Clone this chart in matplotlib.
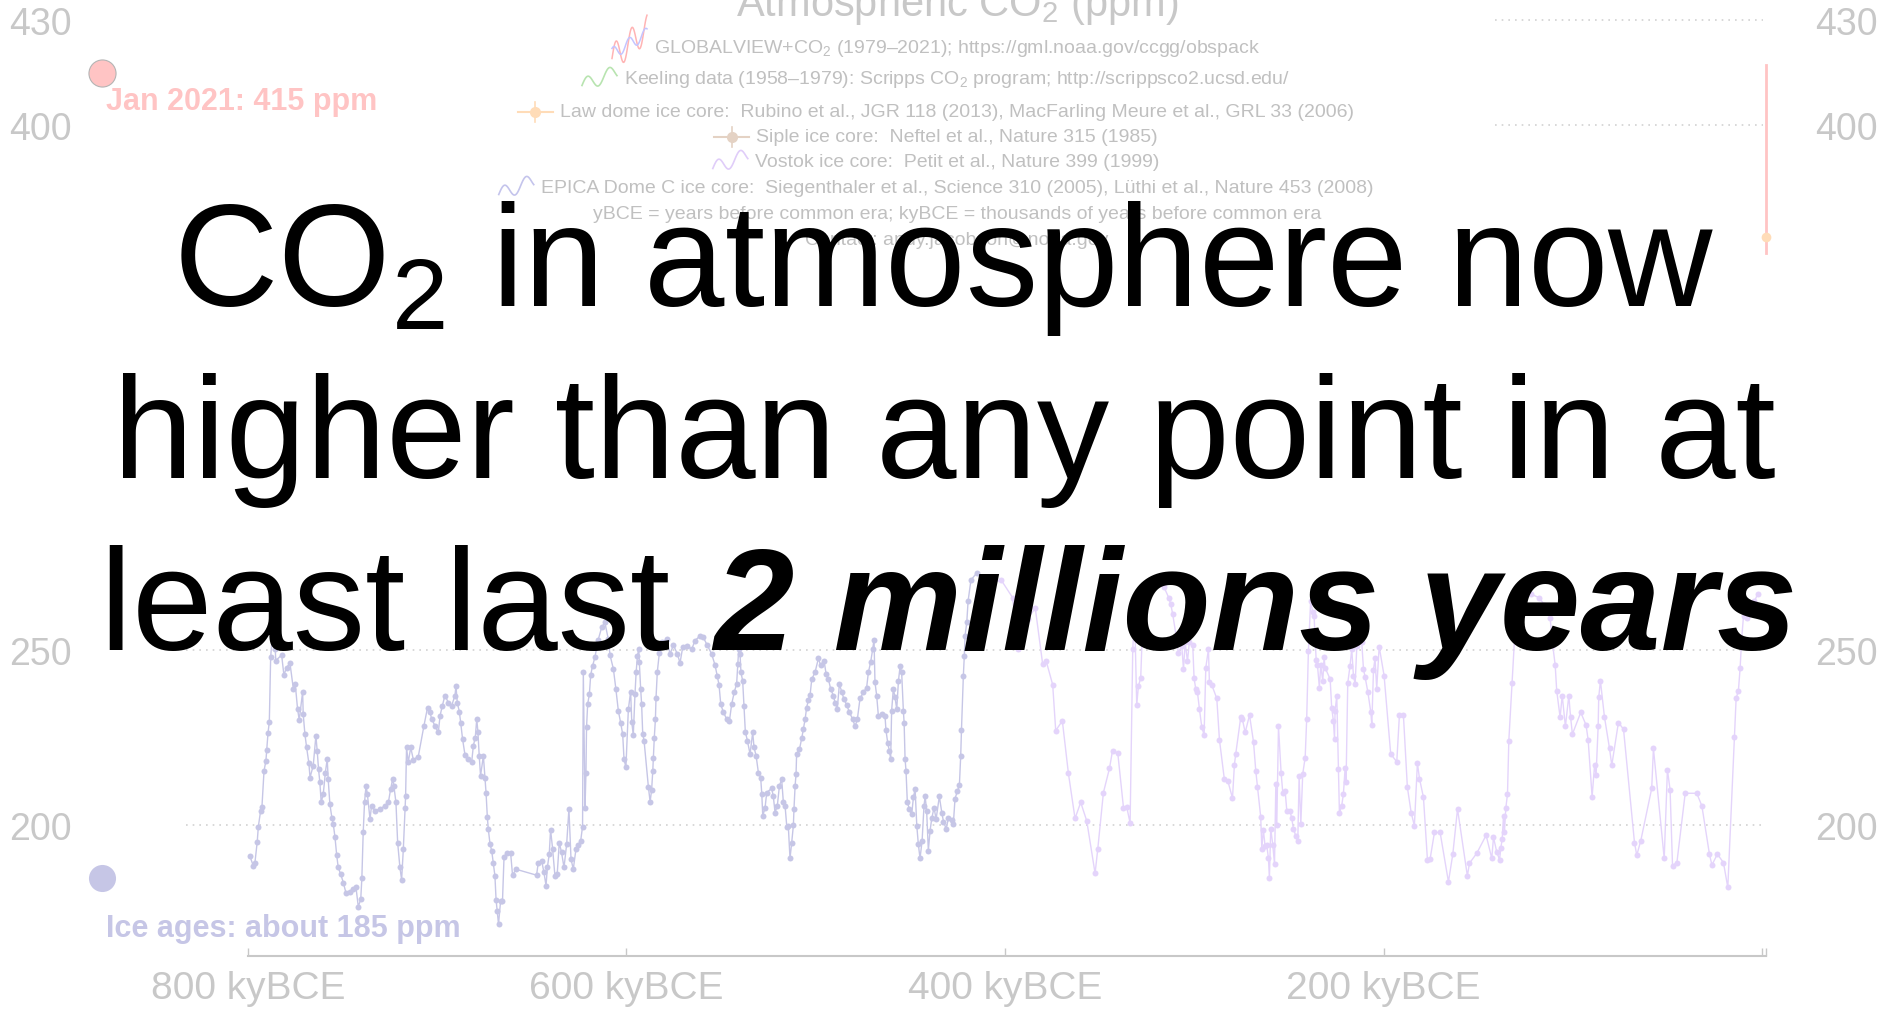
import numpy as np
import matplotlib.pyplot as plt
from matplotlib.lines import Line2D
from matplotlib.transforms import IdentityTransform, blended_transform_factory

plt.rcParams['font.family'] = ['Liberation Sans', 'DejaVu Sans']
plt.rcParams['mathtext.fontset'] = 'custom'
plt.rcParams['mathtext.rm'] = 'Liberation Sans'
plt.rcParams['mathtext.it'] = 'Liberation Sans:italic'
plt.rcParams['mathtext.bf'] = 'Liberation Sans:bold'

W, H = 1883, 1012

# --- data (thousands of years BCE, ppm) ---
epica_ky = [799.0, 797.2, 796.3, 795.1, 794.5, 793.3, 792.6, 791.5, 790.5, 790.1, 789.4, 788.7, 788.0, 787.0,
            786.2, 785.6, 785.3, 782.2, 781.0, 779.6, 777.8, 776.0, 775.0, 773.8, 772.9, 771.1, 770.8, 769.9,
            769.0, 767.8, 767.2, 765.5, 764.1, 763.4, 762.7, 762.0, 761.3, 760.2, 759.1, 758.1, 757.6, 756.7,
            755.6, 754.9, 754.0, 753.1, 752.3, 751.0, 749.6, 748.2, 746.1, 744.3, 742.9, 741.7, 740.4, 739.8,
            739.1, 738.4, 737.6, 736.9, 735.5, 734.7, 732.9, 730.3, 727.6, 725.8, 724.6, 723.5, 722.9, 721.8,
            720.9, 719.7, 718.8, 717.9, 717.0, 716.7, 716.2, 715.3, 714.0, 712.6, 710.0, 707.0, 705.1, 703.8,
            702.9, 701.2, 699.4, 698.5, 697.3, 695.9, 694.1, 692.4, 690.6, 690.1, 689.4, 688.3, 687.6, 686.6,
            685.3, 683.5, 681.8, 680.9, 679.9, 679.1, 678.5, 677.8, 677.1, 675.6, 674.8, 674.2, 673.5, 673.0,
            672.1, 671.2, 670.4, 669.5, 668.9, 668.3, 667.6, 666.5, 665.5, 664.7, 663.3, 661.2, 660.2, 658.4,
            647.5, 646.6, 644.8, 643.6, 642.5, 641.8, 640.8, 640.1, 639.0, 637.8, 636.6, 635.5, 634.3, 633.0,
            631.6, 630.4, 629.3, 628.1, 626.7, 625.5, 624.2, 623.2, 622.8, 621.9, 621.4, 621.1, 620.5, 619.6,
            618.9, 617.9, 616.7, 614.9, 613.1, 611.4, 609.6, 608.7, 606.9, 605.6, 604.3, 603.1, 602.0, 601.3,
            600.3, 599.0, 597.8, 597.2, 596.4, 595.5, 594.9, 594.2, 593.5, 593.2, 592.5, 592.0, 591.4, 590.7,
            588.4, 587.5, 586.7, 586.1, 585.8, 585.3, 584.7, 584.4, 583.7, 582.6, 581.4, 578.7, 577.0, 575.2,
            573.1, 571.7, 570.3, 568.2, 565.5, 563.8, 561.1, 559.4, 557.3, 555.0, 553.2, 552.0, 551.1, 550.2,
            548.8, 547.0, 545.6, 544.4, 543.0, 541.8, 541.2, 540.7, 540.0, 539.5, 538.6, 537.9, 537.2, 536.1,
            534.7, 533.3, 532.6, 531.5, 530.3, 529.1, 528.5, 528.0, 526.8, 525.9, 523.3, 522.4, 521.5, 520.3,
            519.2, 518.0, 517.1, 516.2, 515.3, 514.5, 513.6, 512.7, 511.8, 511.5, 510.9, 510.4, 510.1, 508.6,
            507.4, 506.5, 505.6, 504.8, 503.9, 503.0, 502.1, 500.4, 498.6, 497.4, 495.6, 494.5, 493.3, 492.1,
            490.7, 489.8, 488.6, 487.5, 486.3, 485.1, 483.6, 482.2, 480.5, 479.2, 478.0, 476.6, 474.8, 473.1,
            472.2, 471.0, 469.9, 469.2, 468.7, 467.8, 466.9, 465.1, 463.4, 462.9, 462.0, 461.1, 460.4, 459.9,
            459.0, 458.1, 457.2, 456.3, 455.4, 454.6, 453.7, 453.3, 452.8, 452.3, 451.6, 450.5, 449.3, 448.4,
            447.5, 446.6, 445.8, 444.9, 443.8, 442.8, 442.2, 441.4, 440.5, 439.6, 438.7, 437.5, 436.4, 434.7,
            433.4, 432.5, 431.1, 429.9, 428.1, 427.3, 426.4, 425.1, 424.1, 423.4, 423.0, 422.0, 421.5, 421.1,
            420.2, 419.5, 418.0, 415.0, 412.0]
epica_ppm = [191.2, 188.4, 189.3, 195.2, 199.6, 204.1, 205.2, 215.5, 218.4, 221.4, 226.3, 229.5, 247.9, 255.0,
             258.0, 250.3, 247.0, 248.6, 242.9, 245.0, 246.3, 238.9, 240.3, 233.3, 230.0, 238.1, 231.7, 226.0,
             222.2, 217.7, 213.6, 217.0, 225.5, 221.2, 216.0, 212.2, 206.5, 208.9, 215.0, 218.9, 213.1, 206.0,
             201.9, 200.3, 196.5, 191.4, 187.9, 186.0, 183.6, 180.6, 180.8, 181.7, 182.2, 176.7, 178.8, 185.0,
             197.9, 206.5, 211.2, 208.9, 201.7, 205.5, 204.1, 204.6, 205.5, 206.5, 210.3, 213.3, 211.2, 206.5,
             195.0, 187.9, 184.4, 193.1, 205.0, 208.2, 222.2, 217.9, 222.2, 218.7, 219.6, 228.4, 233.6, 232.2,
             230.3, 228.4, 226.5, 231.2, 234.1, 237.0, 235.0, 234.1, 237.0, 239.8, 235.0, 232.4, 229.3, 224.6,
             220.0, 218.9, 217.9, 222.7, 225.0, 230.3, 226.7, 219.8, 214.1, 219.8, 213.6, 209.3, 202.2, 198.9,
             194.6, 192.7, 189.3, 185.5, 178.7, 175.5, 171.7, 178.4, 178.4, 190.8, 192.0, 192.0, 185.7, 187.4,
             185.7, 189.3, 189.8, 186.5, 182.7, 187.9, 191.7, 198.7, 193.1, 185.5, 186.0, 195.0, 192.2, 187.9,
             194.6, 204.6, 190.3, 187.4, 193.1, 194.3, 195.5, 199.6, 243.6, 205.0, 215.0, 227.9, 234.6, 237.4,
             242.9, 245.5, 247.9, 253.0, 256.5, 257.9, 253.1, 248.6, 244.6, 238.9, 232.7, 229.3, 226.0, 218.9,
             216.5, 233.1, 238.1, 229.5, 225.7, 237.4, 243.6, 248.4, 250.3, 246.5, 238.9, 234.6, 226.0, 224.1,
             210.8, 206.7, 210.1, 215.5, 219.3, 225.0, 230.3, 236.2, 243.8, 249.3, 252.2, 253.1, 248.9, 251.4,
             248.9, 246.3, 250.8, 251.2, 250.3, 252.7, 254.1, 253.6, 251.4, 248.9, 245.7, 242.5, 240.1, 234.6,
             232.2, 230.3, 229.8, 234.6, 238.1, 240.3, 246.0, 250.3, 248.9, 243.6, 241.2, 234.1, 226.7, 224.1,
             220.3, 226.5, 222.2, 219.8, 215.0, 213.6, 208.9, 202.7, 204.8, 209.3, 210.5, 208.2, 203.6, 205.5,
             211.2, 213.1, 206.5, 205.5, 199.6, 199.8, 190.5, 195.0, 200.0, 204.6, 211.2, 214.6, 220.3, 221.7,
             224.8, 227.6, 230.3, 233.6, 235.7, 237.1, 241.7, 243.6, 247.6, 245.7, 247.0, 243.1, 241.7, 238.9,
             237.0, 235.0, 233.3, 240.3, 238.1, 236.0, 234.3, 232.2, 230.3, 228.2, 230.3, 236.2, 237.9, 239.3,
             243.6, 246.5, 250.3, 253.0, 240.8, 237.0, 231.2, 231.7, 231.2, 227.2, 223.6, 221.2, 218.9, 232.7,
             238.9, 236.5, 233.1, 241.2, 245.5, 243.6, 232.7, 229.3, 218.9, 215.5, 206.5, 204.6, 203.1, 207.9,
             210.3, 199.8, 194.6, 190.5, 195.5, 205.5, 208.2, 204.1, 192.7, 198.4, 201.9, 205.0, 201.7, 208.2,
             203.6, 201.0, 199.0, 201.9, 201.5, 200.3, 207.6, 209.8, 211.4, 219.8, 227.2, 242.7, 248.4, 254.1,
             257.9, 264.0, 270.0, 272.0, 271.0]

vostok_ky = [414.0, 408.0, 402.0, 396.0, 392.9, 388.0, 384.0, 380.1, 378.3, 374.8, 373.2, 369.7, 366.5, 363.0,
             360.0, 356.8, 352.4, 351.0, 348.0, 344.8, 343.2, 340.4, 337.4, 335.7, 333.9, 332.5, 331.5, 330.4,
             329.5, 328.3, 327.0, 324.0, 320.0, 316.0, 313.5, 312.4, 311.4, 309.3, 308.4, 306.6, 305.7, 304.8,
             303.6, 302.6, 300.8, 300.1, 299.2, 298.3, 297.3, 296.0, 294.8, 293.9, 292.5, 292.0, 290.8, 288.1,
             286.7, 284.1, 282.3, 279.8, 278.8, 278.1, 275.4, 274.6, 273.1, 270.8, 268.7, 267.5, 266.6, 264.9,
             264.3, 263.5, 262.6, 261.7, 260.8, 260.3, 259.6, 258.5, 257.6, 256.9, 256.4, 255.5, 254.1, 253.2,
             252.0, 251.1, 249.4, 248.5, 247.6, 246.4, 245.3, 244.6, 243.7, 242.7, 241.4, 240.6, 239.7, 238.5,
             237.5, 236.7, 235.6, 234.9, 233.9, 233.2, 232.1, 231.4, 230.9, 228.2, 227.4, 226.5, 225.9, 225.6,
             224.7, 223.8, 223.3, 222.1, 221.2, 220.3, 219.8, 218.9, 217.7, 216.8, 215.9, 215.0, 214.1, 213.0,
             211.5, 210.6, 209.7, 208.3, 206.7, 206.2, 205.3, 204.5, 203.6, 202.3, 199.7, 196.2, 193.0, 191.6,
             189.5, 187.4, 185.4, 183.7, 182.1, 181.0, 178.9, 176.8, 175.4, 173.1, 170.1, 165.7, 163.4, 160.9,
             155.7, 154.6, 150.7, 145.8, 142.8, 141.9, 140.2, 138.7, 138.0, 137.3, 136.6, 136.1, 135.4, 134.5,
             133.8, 132.1, 130.5, 128.5, 126.0, 122.0, 118.0, 115.0, 112.0, 110.6, 109.3, 108.5, 106.7, 105.6,
             103.9, 102.1, 101.2, 100.2, 95.8, 93.0, 91.9, 89.8, 88.5, 87.7, 86.6, 86.3, 85.4, 83.3,
             80.6, 79.4, 75.9, 73.2, 67.4, 66.2, 64.1, 58.3, 57.4, 51.7, 50.0, 48.6, 47.3, 45.0,
             40.6, 34.5, 31.8, 27.8, 26.5, 23.6, 20.4, 18.1, 14.6, 13.7, 12.5, 11.6, 10.8, 9.8,
             8.1, 6.0, 4.0, 2.3]
vostok_ppm = [266.0, 269.0, 270.0, 265.0, 250.3, 259.0, 262.0, 246.0, 247.0, 240.1, 227.0, 229.8, 214.8, 201.9,
              206.5, 201.2, 186.2, 193.1, 209.3, 216.2, 221.2, 220.5, 205.0, 205.2, 200.6, 250.3, 260.0, 234.3,
              239.8, 241.9, 262.0, 267.0, 269.0, 268.0, 265.0, 263.1, 260.3, 253.1, 249.1, 251.2, 244.6, 252.2,
              246.8, 252.2, 251.4, 241.9, 238.9, 237.9, 233.3, 227.9, 225.8, 245.0, 250.3, 240.8, 240.1, 236.2,
              224.4, 213.1, 212.7, 207.7, 217.2, 220.3, 231.0, 230.3, 226.5, 231.4, 223.8, 215.5, 211.0, 202.4,
              193.3, 198.7, 194.1, 194.3, 190.5, 184.8, 199.0, 194.3, 188.9, 211.7, 200.0, 228.2, 214.8, 209.1,
              209.8, 204.1, 204.1, 201.9, 199.0, 197.0, 195.5, 213.9, 200.3, 214.6, 219.3, 230.3, 249.8, 264.0,
              261.0, 259.8, 247.2, 245.7, 239.3, 245.7, 241.2, 247.9, 245.0, 241.7, 233.6, 229.8, 224.6, 232.7,
              236.9, 216.0, 203.4, 205.5, 208.9, 216.2, 212.2, 240.6, 245.5, 250.3, 242.7, 240.3, 251.2, 256.0,
              252.2, 244.6, 242.2, 238.1, 232.2, 228.6, 244.4, 247.6, 239.0, 251.0, 242.7, 220.3, 218.1, 231.5,
              231.5, 210.8, 203.6, 199.8, 217.7, 213.3, 207.9, 190.1, 190.3, 197.9, 197.9, 183.8, 191.7, 204.6,
              185.5, 189.1, 192.0, 197.1, 190.5, 196.5, 192.4, 190.1, 193.6, 196.0, 202.7, 198.1, 204.8, 208.9,
              224.1, 240.5, 256.0, 264.0, 267.0, 266.0, 265.0, 263.0, 259.3, 251.4, 245.7, 238.4, 230.8, 237.0,
              228.2, 237.0, 231.0, 226.0, 232.2, 228.6, 224.4, 208.1, 217.1, 214.3, 228.2, 236.5, 241.2, 231.0,
              221.9, 217.1, 229.3, 227.4, 195.0, 191.4, 195.5, 210.5, 221.9, 190.5, 215.8, 210.1, 188.4, 189.3,
              209.1, 209.1, 205.5, 191.7, 188.6, 191.7, 189.3, 182.2, 225.3, 236.2, 238.4, 244.8, 253.0, 259.8,
              259.3, 261.0, 264.0, 266.0]

# modern records squeezed into the last pixel column
globalview_ky = [-2.0, -2.0]
globalview_ppm = [363.4, 417.1]
lawdome_ky = [-2.0]
lawdome_ppm = [368.0]

xtick_values = [800, 600, 400, 200, 0, -2]
xtick_labels = ['800 kyBCE', '600 kyBCE', '400 kyBCE', '200 kyBCE', '', '']
ylabel_values = [430, 400, 250, 200]
grid_low = [200, 250]
grid_high = [400, 430]

legend_lines = [
    'GLOBALVIEW+CO$_\\mathrm{2}$ (1979–2021); https://gml.noaa.gov/ccgg/obspack',
    'Keeling data (1958–1979): Scripps CO$_\\mathrm{2}$ program; http://scrippsco2.ucsd.edu/',
    'Law dome ice core:  Rubino et al., JGR 118 (2013), MacFarling Meure et al., GRL 33 (2006)',
    'Siple ice core:  Neftel et al., Nature 315 (1985)',
    'Vostok ice core:  Petit et al., Nature 399 (1999)',
    'EPICA Dome C ice core:  Siegenthaler et al., Science 310 (2005), Lüthi et al., Nature 453 (2008)',
    'yBCE = years before common era; kyBCE = thousands of years before common era',
    'Contact: andy.jacobson@noaa.gov',
]
legend_baselines = [53, 84, 117, 142, 167, 193, 219, 245]
legend_icons = ['globalview', 'keeling', 'lawdome', 'siple', 'vostok', 'epica', None, None]

GRAY = '#c8c8c8'
EPICA_C = '#c6c6e6'
VOSTOK_C = '#e4d4fb'
PINK = '#ffc4c4'


def fx(px):
    return px / W


def fy(py):
    return 1 - py / H


fig = plt.figure(figsize=(W / 100, H / 100), dpi=100)
ax = fig.add_axes([0, 0, 1, 1])
ax.set_xlim(931.0, -63.9)
ax.set_ylim(146.9, 436.0)
ax.patch.set_alpha(0)

for s in ['left', 'right', 'top']:
    ax.spines[s].set_visible(False)
ax.spines['bottom'].set_position(('data', 162.6))
ax.spines['bottom'].set_bounds(-2, 800)
ax.spines['bottom'].set_color(GRAY)
ax.spines['bottom'].set_linewidth(1.5)
ax.set_xticks(xtick_values)
ax.set_xticklabels(xtick_labels)
ax.tick_params(axis='x', direction='in', length=6, width=1, color=GRAY,
               labelcolor=GRAY, labelsize=28, pad=10)
ax.set_yticks([])

# dotted grid (upper part is hidden by the legend box)
ax.hlines(grid_low, 832.8, -0.5, colors='#d2d2d2', linestyles=(0, (1, 3)), lw=1.2, zorder=0)
ax.hlines(grid_high, 141.0, -0.5, colors='#d2d2d2', linestyles=(0, (1, 3)), lw=1.2, zorder=0)

# y labels on both sides
blend = blended_transform_factory(ax.transAxes, ax.transData)
for v in ylabel_values:
    ax.text(fx(9), v - 3.9, str(v), transform=blend, ha='left', va='baseline',
            fontsize=27, color=GRAY)
    ax.text(fx(1815), v - 3.9, str(v), transform=blend, ha='left', va='baseline',
            fontsize=27, color=GRAY)

# ice core records
ax.plot(epica_ky, epica_ppm, '-o', color=EPICA_C, lw=1.0, ms=4.3, mew=0, zorder=2)
ax.plot(vostok_ky, vostok_ppm, '-o', color=VOSTOK_C, lw=1.0, ms=4.3, mew=0, zorder=2)
ax.plot(globalview_ky, globalview_ppm, color=PINK, lw=2, zorder=3)
ax.plot(lawdome_ky, lawdome_ppm, 'o', color='#ffdcb8', ms=7, mew=0, zorder=4)

# side annotations
ax.plot([877], [415], 'o', ms=19.5, mfc=PINK, mec='#b4b4b4', mew=0.8, clip_on=False)
ax.plot([877], [185], 'o', ms=19.5, mfc=EPICA_C, mec='none', clip_on=False)
fig.text(fx(106), fy(110), 'Jan 2021: 415 ppm', fontsize=22, fontweight='bold',
         color=PINK, ha='left', va='baseline')
fig.text(fx(106), fy(937), 'Ice ages: about 185 ppm', fontsize=22, fontweight='bold',
         color=EPICA_C, ha='left', va='baseline')

# title and legend
fig.text(fx(957), fy(16), 'Atmospheric CO$_\\mathrm{2}$ (ppm)', fontsize=30, color=GRAY,
         ha='center', va='baseline')
legend_texts = []
for line, yb in zip(legend_lines, legend_baselines):
    t = fig.text(fx(957), fy(yb), line, fontsize=14, color='#c0c0c0', ha='center', va='baseline')
    legend_texts.append(t)

# big overlay message
fig.text(fx(944), fy(306), 'CO$_\\mathrm{2}$ in atmosphere now', fontsize=104, color='black',
         ha='center', va='baseline', zorder=10)
fig.text(fx(944), fy(478), 'higher than any point in at', fontsize=104, color='black',
         ha='center', va='baseline', zorder=10)
fig.text(fx(100), fy(650), 'least last', fontsize=104, color='black',
         ha='left', va='baseline', zorder=10)
fig.text(fx(713), fy(650), '2 millions years', fontsize=104, color='black', fontweight='bold',
         fontstyle='italic', ha='left', va='baseline', zorder=10)

# legend icons, placed just left of each text
fig.canvas.draw()
renderer = fig.canvas.get_renderer()
tr = IdentityTransform()
t_wave = np.linspace(0, 1, 60)


def add_line(xs, ys, **kw):
    fig.add_artist(Line2D(xs, H - np.asarray(ys), transform=tr, **kw))


for t, kind in zip(legend_texts, legend_icons):
    if kind is None:
        continue
    bb = t.get_window_extent(renderer)
    x1 = bb.x0 - 7
    x0 = x1 - 35
    yc = H - (bb.y0 + bb.y1) / 2
    xs = x0 + t_wave * (x1 - x0)
    if kind == 'globalview':
        yc = yc - 4
        add_line(xs, yc - 30 * (t_wave - 0.5) - 14 * np.sin(2 * np.pi * 2.2 * t_wave),
                 color='#ffb4b4', lw=1.1)
        add_line(xs, yc - 20 * (t_wave - 0.5) - 6 * np.sin(2 * np.pi * 2.2 * t_wave + 1.0),
                 color='#c4c4ff', lw=1.1)
    elif kind in ('keeling', 'vostok', 'epica'):
        col = {'keeling': '#b8e4b0', 'vostok': '#e0cdf9', 'epica': '#c4c4ec'}[kind]
        add_line(xs, yc - 14 * (t_wave - 0.5) - 7 * np.sin(2 * np.pi * 1.6 * t_wave),
                 color=col, lw=1.2)
    else:
        col = '#ffdcb8' if kind == 'lawdome' else '#e4d2c4'
        xm = (x0 + x1) / 2
        add_line([x0, x1], [yc, yc], color=col, lw=1.5)
        add_line([xm, xm], [yc - 10, yc + 10], color=col, lw=1.2)
        add_line([xm], [yc], color=col, marker='o', ms=8, mew=0)

fig.savefig('out.png', dpi=100)
